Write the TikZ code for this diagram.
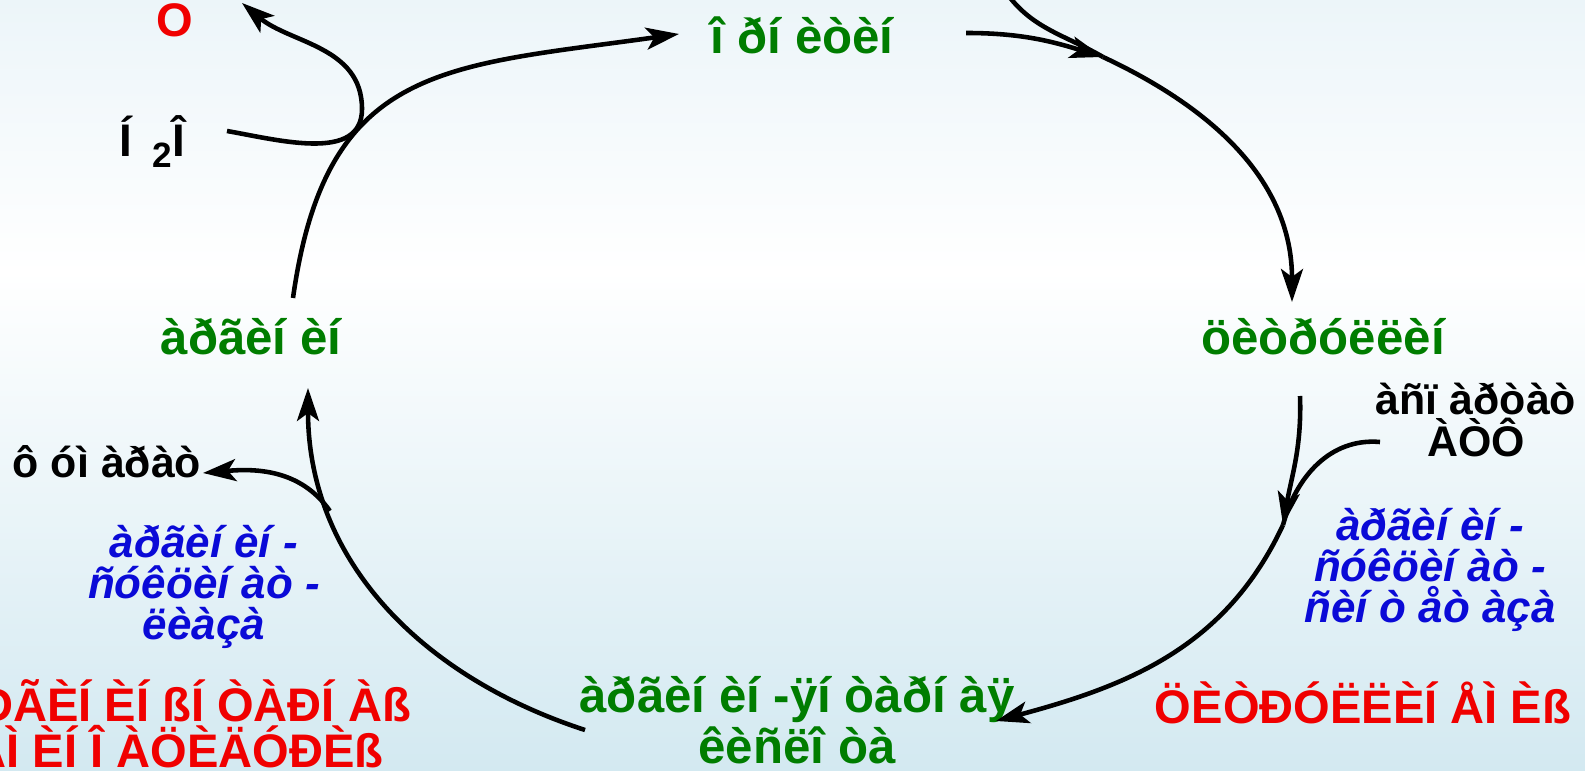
\documentclass[tikz,border=0pt]{standalone}
\usepackage{fontspec}
\setmainfont{Liberation Sans}
\usetikzlibrary{arrows.meta,positioning}
\definecolor{ucgreen}{RGB}{0,125,0}
\definecolor{ucred}{RGB}{240,0,0}
\definecolor{ucblue}{RGB}{10,10,215}
\definecolor{bgtop}{RGB}{236,245,249}
\definecolor{bgbot}{RGB}{211,233,241}

\begin{document}
\begin{tikzpicture}[
  font=\bfseries\fontsize{14}{12}\selectfont,
  met/.style={text=ucgreen,inner sep=1pt},
  sub/.style={text=black,inner sep=1pt,align=center,font=\bfseries\fontsize{12.2}{12.2}\selectfont},
  enz/.style={text=ucblue,align=center,inner sep=1pt,font=\bfseries\itshape\fontsize{12.5}{11.6}\selectfont},
  dis/.style={text=ucred,align=center,inner sep=1pt,font=\bfseries\fontsize{13.4}{13}\selectfont},
  flow/.style={line width=1.3pt,-{Stealth[length=3.3mm,width=2.2mm,inset=0.8mm]}},
  feed/.style={line width=1.3pt}]

% ================= BACKGROUND =================
\useasboundingbox (0,0) rectangle (15.85,7.71);
\shade[top color=bgtop,bottom color=white] (0,4.98) rectangle (15.85,7.71);
\shade[top color=white,bottom color=bgbot] (0,0) rectangle (15.85,5.0);

% ================= METABOLITES =================
\node[met,anchor=base] (orn) at (8.02,7.17) {î ðí èòèí};
\node[met,anchor=base] (cit) at (13.23,4.16) {öèòðóëëèí};
\node[met,anchor=base] (arg) at (2.51,4.16) {àðãèí èí};
\node[met,align=center,font=\bfseries\fontsize{14}{11.4}\selectfont] (suc) at (7.97,0.51) {àðãèí èí -ÿí òàðí àÿ\\êèñëî òà};

% ================= IN / OUT =================
\node[sub,anchor=base,font=\bfseries\fontsize{13}{13}\selectfont] (h2o) at (1.52,6.14) {Í\hspace{0.45em}\raisebox{-3pt}{\fontsize{10}{12}\selectfont 2}Î};
\node[dis,anchor=base] (prod) at (1.75,7.34) {O};
\node[sub,anchor=base] (fum) at (1.07,2.93) {ô óì àðàò};
\node[sub] (asp) at (14.76,3.51) {àñï àðòàò\\ÀÒÔ};

% ================= ENZYMES & DISORDERS =================
\node[enz] (asl) at (2.04,1.84) {àðãèí èí -\\ñóêöèí àò -\\ëèàçà};
\node[enz] (ass) at (14.30,2.01) {àðãèí èí -\\ñóêöèí àò -\\ñèí ò åò àçà};
\node[dis] (asa) at (1.78,0.475) {ÀÐÃÈÍ ÈÍ ßÍ ÒÀÐÍ Àß\\ÀÌ ÈÍ Î ÀÖÈÄÓÐÈß};
\node[dis,anchor=base] (cln) at (13.63,0.47) {ÖÈÒÐÓËËÈÍ ÅÌ Èß};

% joins on the cycle
\coordinate (cpin) at (10.05,7.80);
\coordinate (j1) at (11.03,7.14);
\coordinate (j2) at (12.83,2.46);
\coordinate (loop) at (3.62,6.62);

% ================= CYCLE =================
\draw[flow] ([shift={(0.42,0.57)}]arg.base) to[out=82,in=188,looseness=1.3] ([shift={(-1.23,0.20)}]orn.base);
\draw[flow] ([shift={(1.64,0.21)}]orn.base) to[out=0,in=163] (j1);
\draw[feed] (cpin) to[out=-55,in=150] (j1);
\draw[flow] (j1) to[out=-25,in=90] ([shift={(-0.31,0.53)}]cit.base);
\draw[flow] ([shift={(-0.23,-0.41)}]cit.base) to[out=-88,in=80] (j2);
\draw[feed] ([shift={(-0.96,-0.22)}]asp.center) to[out=175,in=75] (j2);
\draw[flow] (j2) to[out=-115,in=15] ([shift={(1.99,-0.01)}]suc.center);
\draw[flow] ([shift={(-2.12,-0.10)}]suc.center) to[out=162,in=-90] coordinate[pos=0.74] (brk) ([shift={(0.57,-0.33)}]arg.base);
\draw[flow] (brk) to[out=125,in=5] ([shift={(0.96,0.05)}]fum.base);
\draw[flow] ([shift={(0.75,0.26)}]h2o.base) to[out=-10,in=-90] (loop) to[out=90,in=-40] ([shift={(0.67,0.34)}]prod.base);
\end{tikzpicture}
\end{document}
